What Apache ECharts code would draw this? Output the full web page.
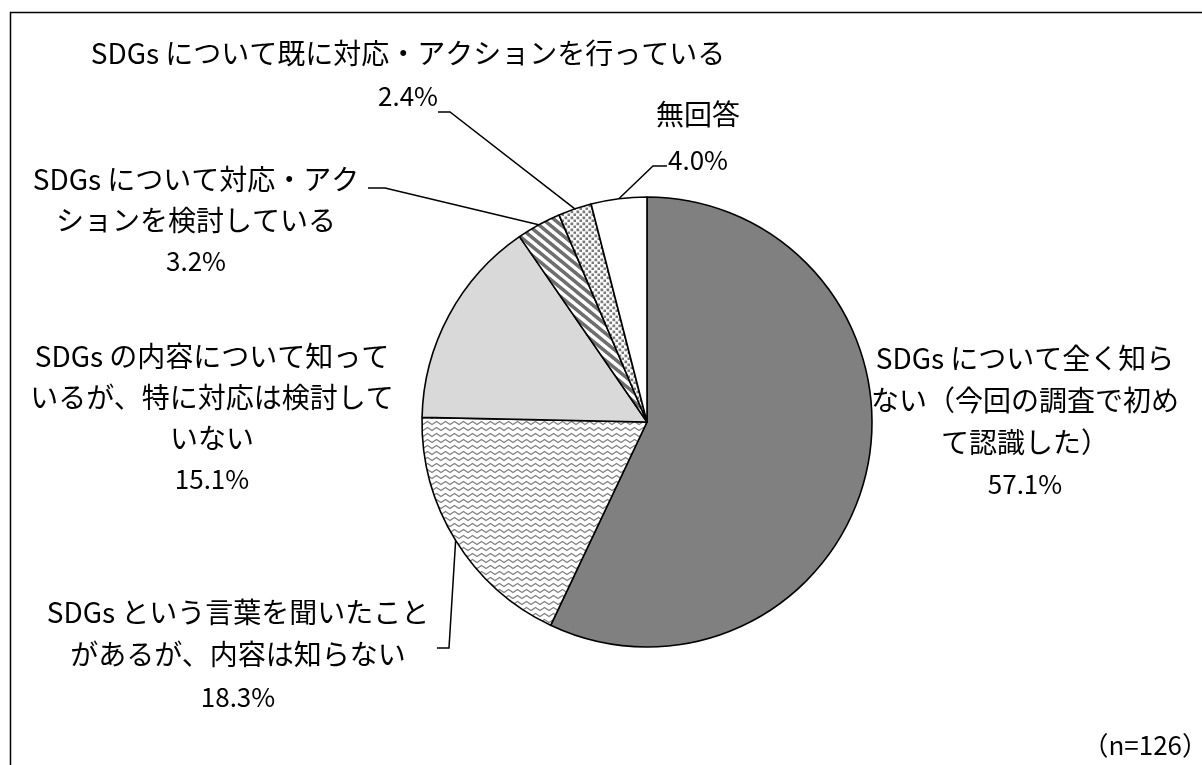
<!DOCTYPE html>
<html>
<head>
<meta charset="utf-8">
<script src="https://cdn.jsdelivr.net/npm/echarts@6/dist/echarts.min.js"></script>
<style>
html,body{margin:0;padding:0;background:#fff;}
#chart{width:1202px;height:765px;}
</style>
</head>
<body>
<div id="chart"></div>
<script>
// ---- data ----
const categories = [
  'SDGs について全く知ら\nない（今回の調査で初め\nて認識した）',
  'SDGs という言葉を聞いたこと\nがあるが、内容は知らない',
  'SDGs の内容について知って\nいるが、特に対応は検討して\nいない',
  'SDGs について対応・アク\nションを検討している',
  'SDGs について既に対応・アクションを行っている',
  '無回答'
];
const values = [57.1, 18.3, 15.1, 3.2, 2.4, 4.0];
const sampleNote = '（n=126）';

// ---- layout (label placement, pixels) ----
const CX = 647, CY = 422, R = 225;
const labelPos = [
  [1025, 337], [238, 591], [212, 336], [196, 159], [408, 32], [698, 91]
];
const lineHeights = [42, 42.5, 41, 41, 43, 46];
// elbow and end points of leader lines (null = no leader line)
const leaderPts = [
  null,
  [[449, 648], [437, 648]],
  null,
  [[385, 188], [368, 188]],
  [[450, 112], [438, 112]],
  [[653, 166], [667, 166]]
];

// ---- patterns ----
function makeTile(w, h, draw) {
  const c = document.createElement('canvas');
  c.width = w; c.height = h;
  const ctx = c.getContext('2d');
  ctx.fillStyle = '#ffffff';
  ctx.fillRect(0, 0, w, h);
  draw(ctx);
  return c;
}
const waveTile = makeTile(9, 6, ctx => {
  ctx.strokeStyle = '#808080';
  ctx.lineWidth = 1.3;
  ctx.lineJoin = 'round';
  ctx.beginPath();
  ctx.moveTo(-4.5, 1.5);
  ctx.lineTo(0, 4.5);
  ctx.lineTo(4.5, 1.5);
  ctx.lineTo(9, 4.5);
  ctx.lineTo(13.5, 1.5);
  ctx.stroke();
});
const stripeTile = makeTile(11, 9, ctx => {
  ctx.strokeStyle = '#6e6e6e';
  ctx.lineWidth = 3.6;
  for (let k = -11; k <= 11; k += 11) {
    ctx.beginPath();
    ctx.moveTo(k - 1.22, -1);
    ctx.lineTo(k + 12.22, 10);
    ctx.stroke();
  }
});
const dotTile = makeTile(6, 6, ctx => {
  ctx.fillStyle = '#7a7a7a';
  ctx.fillRect(0.5, 0.5, 2.7, 2.7);
  ctx.fillRect(3.5, 3.5, 2.7, 2.7);
});

const fills = [
  '#808080',
  { image: waveTile, repeat: 'repeat' },
  '#d9d9d9',
  { image: stripeTile, repeat: 'repeat' },
  { image: dotTile, repeat: 'repeat' },
  '#ffffff'
];

const total = values.reduce((a, b) => a + b, 0);
function anchorPoint(i) {
  let cum = 0;
  for (let k = 0; k < i; k++) cum += values[k];
  const mid = (cum + values[i] / 2) / total * 2 * Math.PI;
  return [CX + R * Math.sin(mid), CY - R * Math.cos(mid)];
}

const TXT = "'Noto Sans CJK JP', sans-serif";
const NUM = "'Noto Sans CJK JP', sans-serif";

const seriesData = categories.map((name, i) => ({
  name: name,
  value: values[i],
  itemStyle: { color: fills[i] },
  label: {
    rich: {
      t: { fontSize: 28, fontFamily: TXT, color: '#000', lineHeight: lineHeights[i], align: 'center' },
      p: { fontSize: 26, fontFamily: NUM, color: '#000', lineHeight: lineHeights[i], align: 'center' }
    }
  },
  labelLine: { show: leaderPts[i] !== null }
}));

const chart = echarts.init(document.getElementById('chart'), null, { renderer: 'canvas' });
chart.setOption({
  backgroundColor: '#ffffff',
  animation: false,
  title: {
    text: sampleNote,
    right: -6,
    top: 732,
    padding: 0,
    textStyle: { fontSize: 26, fontWeight: 'normal', fontFamily: TXT, color: '#000' }
  },
  graphic: [{
    type: 'rect',
    shape: { x: 10.5, y: 12.5, width: 1210, height: 800 },
    style: { fill: 'none', stroke: '#000', lineWidth: 1.5 },
    silent: true
  }],
  series: [{
    type: 'pie',
    center: [CX, CY],
    radius: R,
    startAngle: 90,
    clockwise: true,
    avoidLabelOverlap: false,
    itemStyle: { borderColor: '#000', borderWidth: 1.6 },
    label: {
      show: true,
      position: 'outer',
      formatter: p => {
        const lines = p.name.split('\n').map(s => '{t|' + s + '}');
        lines.push('{p|' + p.value.toFixed(1) + '%}');
        return lines.join('\n');
      }
    },
    labelLine: {
      show: true,
      length: 10,
      length2: 10,
      lineStyle: { color: '#000', width: 1.5 }
    },
    emphasis: { disabled: true },
    labelLayout: params => {
      const i = params.dataIndex;
      const out = {
        x: labelPos[i][0],
        y: labelPos[i][1],
        align: 'center',
        verticalAlign: 'top'
      };
      if (leaderPts[i]) {
        out.labelLinePoints = [anchorPoint(i), leaderPts[i][0], leaderPts[i][1]];
      }
      return out;
    },
    data: seriesData
  }]
});
</script>
</body>
</html>
